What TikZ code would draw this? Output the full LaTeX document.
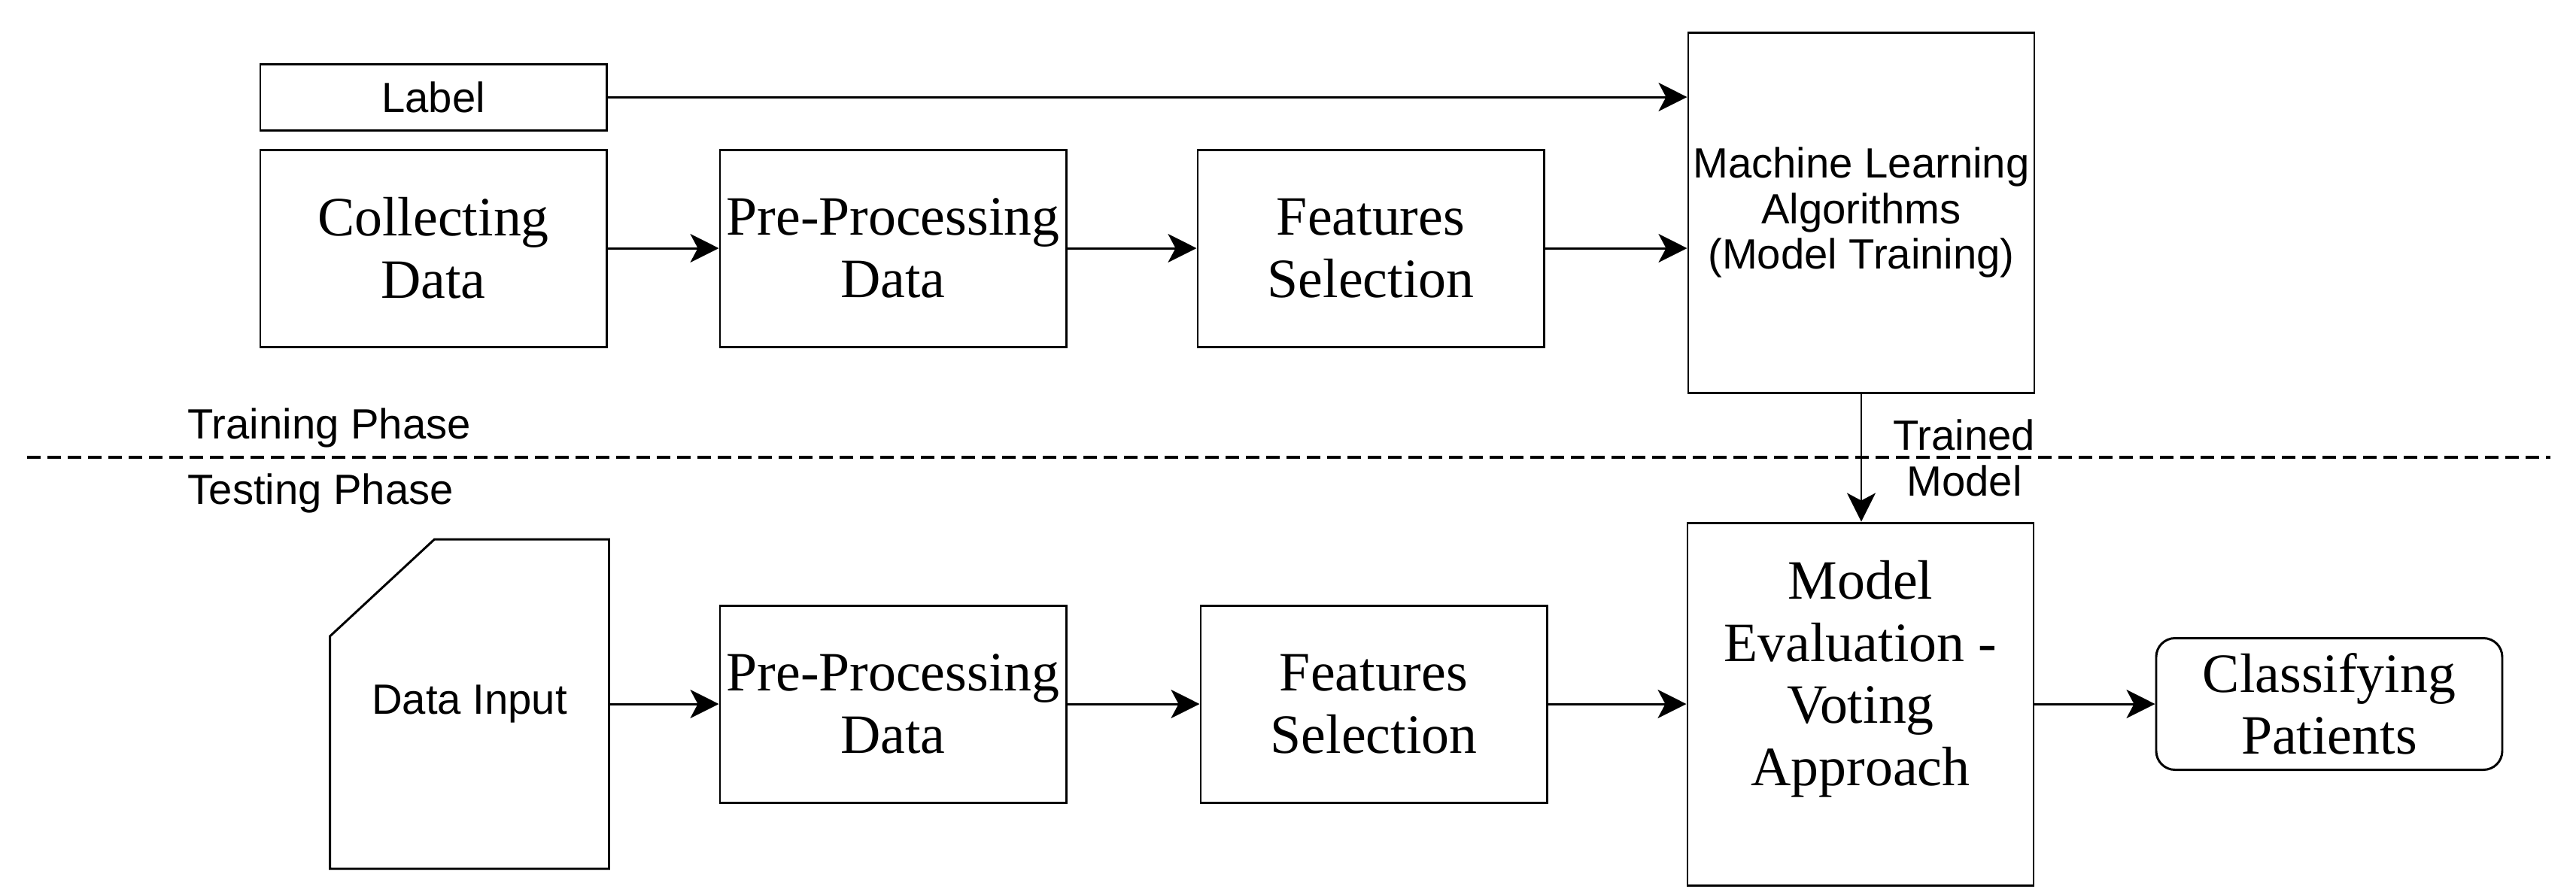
\documentclass[tikz,border=0pt]{standalone}
\usepackage{fontspec}
\setmainfont{Liberation Serif}
\setsansfont{Liberation Sans}
\usetikzlibrary{positioning,arrows.meta,calc}

\begin{document}
\begin{tikzpicture}[
        node distance=1.5cm,
        box/.style={rectangle, minimum width=4.6cm, minimum height=2.62cm, align=center, draw=black, line width=0.85pt, inner sep=1pt, font=\fontsize{21}{23.5}\selectfont},
        sansbox/.style={box, font=\sffamily\fontsize{16}{17.3}\selectfont},
        arrow/.style={line width=0.85pt,-{Stealth[length=0.38cm,width=0.38cm,inset=0.1cm]}},
        phase/.style={anchor=base west, inner sep=0pt, font=\sffamily\fontsize{16}{17.3}\selectfont}
    ]
        \useasboundingbox (0,0) rectangle (34.24,-11.85);

        % Training phase
        \node (collect) [box] at (5.76,-3.30) {Collecting\\Data};
        \node (label) [sansbox, minimum height=0.88cm, above=0.23cm of collect] {Label};
        \node (pre) [box, right=1.48cm of collect] {Pre-Processing\\Data};
        \node (feat) [box, right=1.72cm of pre] {Features\\Selection};
        \node (mltrain) [sansbox, minimum height=4.79cm, right=1.89cm of feat, yshift=0.475cm] {Machine Learning\\Algorithms\\(Model Training)};

        % Testing phase
        \node (pre2) [box, below=3.41cm of pre] {Pre-Processing\\Data};
        \node (datain) [sansbox, draw=none, minimum width=3.68cm, minimum height=4.35cm, left=1.46cm of pre2] {Data Input};
        \node (feat2) [box, right=1.76cm of pre2] {Features\\Selection};
        \node (evalm) [box, minimum height=4.82cm, right=1.84cm of feat2] {Model\\Evaluation -\\Voting\\Approach\\\mbox{}};
        \node (classify) [box, rounded corners=0.25cm, minimum height=1.75cm, right=1.60cm of evalm] {Classifying\\Patients};

        % card outline of the input
        \draw[line width=0.85pt] (datain.south west) -- ($(datain.north west)+(0,-1.29)$) -- ($(datain.north west)+(1.39,0)$) -- (datain.north east) -- (datain.south east) -- cycle;

        % Phase separator
        \coordinate (sepl) at (0.36,-6.08);
        \coordinate (sepr) at (33.90,-6.08);
        \draw[line width=1pt, dash pattern=on 0.18cm off 0.09cm] (sepl) -- (sepr);
        \node (trainph) [phase] at (2.49,-5.83) {Training Phase};
        \node (testph) [phase] at (2.49,-6.70) {Testing Phase};

        % Connections
        \draw[arrow] (label.east) -- (label.east -| mltrain.west);
        \draw[arrow] (collect) -- (pre);
        \draw[arrow] (pre) -- (feat);
        \draw[arrow] (feat.east) -- (feat.east -| mltrain.west);
        \draw[arrow] (mltrain.south) -- (mltrain.south |- evalm.north) node[midway, xshift=1.37cm, align=center, font=\sffamily\fontsize{16}{17.3}\selectfont] {Trained\\Model};

        \draw[arrow] (datain) -- (pre2);
        \draw[arrow] (pre2) -- (feat2);
        \draw[arrow] (feat2) -- (evalm);
        \draw[arrow] (evalm) -- (classify);
    \end{tikzpicture}
\end{document}
